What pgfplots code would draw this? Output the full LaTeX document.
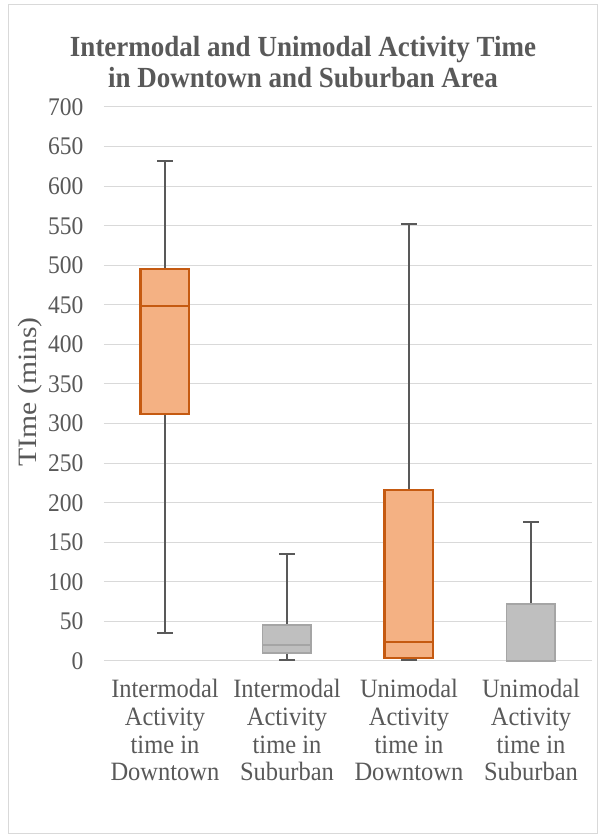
\documentclass[border=0pt]{standalone}
\usepackage{fontspec}
\setmainfont{Liberation Serif}
\usepackage{pgfplots}
\pgfplotsset{compat=1.18}
\usepgfplotslibrary{statistics}
\definecolor{txt}{HTML}{595959}
\definecolor{gridc}{HTML}{D9D9D9}
\definecolor{ofill}{HTML}{F4B183}
\definecolor{oline}{HTML}{C55A11}
\definecolor{gfill}{HTML}{BFBFBF}
\definecolor{gline}{HTML}{A5A5A5}
\definecolor{wh}{HTML}{595959}
\newcommand{\tl}[1]{\scalebox{1}[1.08]{#1}}
\begin{document}
\begin{tikzpicture}[x=1pt,y=1pt]
\useasboundingbox (0,0) rectangle (599,839);
\draw[gridc, line width=1pt] (8,5) rectangle (597,834);
\node[txt, font=\bfseries\fontsize{27}{31}\selectfont, align=center] at (303,777) {\tl{Intermodal and Unimodal Activity Time}\\\tl{in Downtown and Suburban Area}};
\begin{axis}[
  at={(104pt,178pt)}, anchor=south west,
  scale only axis, width=488pt, height=554pt,
  xmin=0.5, xmax=4.5, ymin=0, ymax=700,
  ytick={0,50,...,700},
  xtick={1,2,3,4},
  xticklabels={{\tl{Intermodal}\\\tl{Activity}\\\tl{time in}\\\tl{Downtown}},{\tl{Intermodal}\\\tl{Activity}\\\tl{time in}\\\tl{Suburban}},{\tl{Unimodal}\\\tl{Activity}\\\tl{time in}\\\tl{Downtown}},{\tl{Unimodal}\\\tl{Activity}\\\tl{time in}\\\tl{Suburban}}},
  xticklabel style={align=center, font=\fontsize{24.5}{27.7}\selectfont, text=txt, yshift=-15pt},
  yticklabel={\tl{\pgfmathprintnumber{\tick}}},
  yticklabel style={font=\fontsize{23.5}{27}\selectfont, text=txt, xshift=-17pt},
  /pgf/number format/assume math mode=true,
  major tick length=0pt,
  ymajorgrids, grid style={gridc, line width=1pt},
  axis line style={draw=none},
  axis x line*=bottom, axis y line*=left,
  ylabel={\scalebox{1.12}[1]{TIme (mins)}},
  ylabel style={font=\fontsize{26.5}{30}\selectfont, text=txt, at={(axis description cs:-0.152,0.486)}, anchor=center},
  clip=false,
  boxplot/draw direction=y,
]
\draw[gridc, line width=1pt] (axis cs:0.5,0) -- (axis cs:4.5,0);
\addplot+[line width=2.2pt, boxplot prepared={lower whisker=35, lower quartile=312, median=449, upper quartile=495, upper whisker=632, draw position=1, box extend=0.4, whisker extend=0.13,
  every box/.style={draw=oline, fill=ofill, line width=2.2pt},
  every median/.style={draw=oline, line width=2.2pt},
  every whisker/.style={draw=wh, line width=1.6pt}}, solid, mark=none] coordinates {};
\addplot+[line width=1.8pt, boxplot prepared={lower whisker=1, lower quartile=10, median=20, upper quartile=45.5, upper whisker=135, draw position=2, box extend=0.4, whisker extend=0.13,
  every box/.style={draw=gline, fill=gfill, line width=1.8pt},
  every median/.style={draw=gline, line width=1.8pt},
  every whisker/.style={draw=wh, line width=1.6pt}}, solid, mark=none] coordinates {};
\addplot+[line width=2.2pt, boxplot prepared={lower whisker=1, lower quartile=4, median=24, upper quartile=216, upper whisker=552, draw position=3, box extend=0.4, whisker extend=0.13,
  every box/.style={draw=oline, fill=ofill, line width=2.2pt},
  every median/.style={draw=oline, line width=2.2pt},
  every whisker/.style={draw=wh, line width=1.6pt}}, solid, mark=none] coordinates {};
\addplot+[line width=1.8pt, boxplot prepared={lower whisker=0, lower quartile=0, median=0, upper quartile=72, upper whisker=176, draw position=4, box extend=0.4, whisker extend=0.13,
  every box/.style={draw=gline, fill=gfill, line width=1.8pt},
  every median/.style={draw=gline, line width=1.8pt},
  every whisker/.style={draw=wh, line width=1.6pt}}, solid, mark=none] coordinates {};
\end{axis}
\end{tikzpicture}
\end{document}
